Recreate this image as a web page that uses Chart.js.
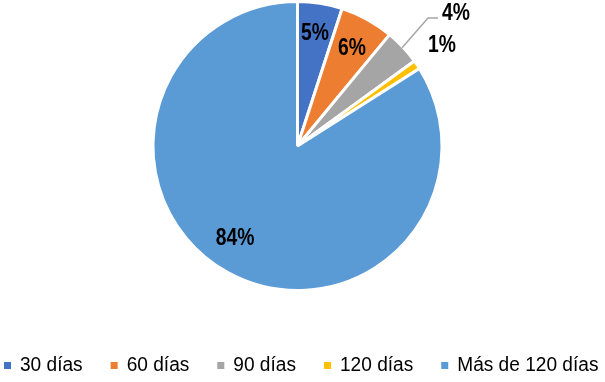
<!DOCTYPE html>
<html>
<head>
<meta charset="utf-8">
<script src="https://cdn.jsdelivr.net/npm/chart.js@4.4.1/dist/chart.umd.min.js"></script>
<style>
  html, body { margin: 0; padding: 0; background: #fff; }
  #wrap { width: 605px; height: 382px; position: relative; }
</style>
</head>
<body>
<div id="wrap"><canvas id="c" width="605" height="382"></canvas></div>
<script>
// Antigüedad de saldos: porcentaje por tramo de días
const categories = ['30 días', '60 días', '90 días', '120 días', 'Más de 120 días'];
const shares = [5, 6, 4, 1, 84];
const sliceColors = ['#4472C4', '#ED7D31', '#A5A5A5', '#FFC000', '#5B9BD5'];

// Label offsets from the pie centre; some outside labels get a leader line
const labelPlacement = [
  { dx: 17.5, dy: -113 },
  { dx: 54.5, dy: -98 },
  { dx: 158.5, dy: -133, leader: true },
  { dx: 144.5, dy: -101 },
  { dx: -62.5, dy: 92 }
];

const FONT_FAMILY = '"Liberation Sans", Arial, sans-serif';

const valueLabels = {
  id: 'valueLabels',
  afterDatasetsDraw(chart) {
    const ctx = chart.ctx;
    const meta = chart.getDatasetMeta(0);
    const total = shares.reduce((a, b) => a + b, 0);
    meta.data.forEach((arc, i) => {
      const p = arc.getProps(['x', 'y', 'startAngle', 'endAngle', 'outerRadius'], true);
      const mid = (p.startAngle + p.endAngle) / 2;
      const text = Math.round(shares[i] / total * 100) + '%';
      const place = labelPlacement[i];
      const tx = p.x + place.dx;
      const ty = p.y + place.dy;
      if (place.leader) {
        const ex = p.x + Math.cos(mid) * (p.outerRadius - 1);
        const ey = p.y + Math.sin(mid) * (p.outerRadius - 1);
        ctx.save();
        ctx.strokeStyle = '#A6A6A6';
        ctx.lineWidth = 1.5;
        ctx.beginPath();
        ctx.moveTo(ex, ey);
        ctx.lineTo(tx - 28, ty + 5);
        ctx.lineTo(tx - 18, ty + 5);
        ctx.stroke();
        ctx.restore();
      }
      ctx.save();
      ctx.translate(tx, ty);
      ctx.scale(0.84, 1);
      ctx.font = 'bold 23px ' + FONT_FAMILY;
      ctx.fillStyle = '#000';
      ctx.textAlign = 'center';
      ctx.textBaseline = 'middle';
      ctx.fillText(text, 0, 1);
      ctx.restore();
    });
  }
};

const bottomLegend = {
  id: 'bottomLegend',
  afterDraw(chart) {
    const ctx = chart.ctx;
    ctx.save();
    ctx.font = '20px ' + FONT_FAMILY;
    ctx.textBaseline = 'alphabetic';
    ctx.textAlign = 'left';
    const sx = 0.955;
    let x = 4;
    const box = 7, gapText = 9, gapItem = 28, baseline = 371, boxTop = 362;
    categories.forEach((name, i) => {
      ctx.fillStyle = sliceColors[i];
      ctx.fillRect(x, boxTop, box, box);
      const w = ctx.measureText(name).width * sx;
      ctx.fillStyle = '#000';
      ctx.save();
      ctx.translate(x + box + gapText, baseline);
      ctx.scale(sx, 1);
      ctx.fillText(name, 0, 0);
      ctx.restore();
      x += box + gapText + w + gapItem;
    });
    ctx.restore();
  }
};

new Chart(document.getElementById('c'), {
  type: 'pie',
  data: {
    labels: categories,
    datasets: [{
      data: shares,
      backgroundColor: sliceColors,
      borderColor: '#ffffff',
      borderWidth: 3
    }]
  },
  options: {
    responsive: false,
    animation: false,
    layout: { padding: { top: 0, bottom: 90, left: 0, right: 10 } },
    plugins: {
      legend: { display: false },
      tooltip: { enabled: false }
    }
  },
  plugins: [valueLabels, bottomLegend]
});
</script>
</body>
</html>
